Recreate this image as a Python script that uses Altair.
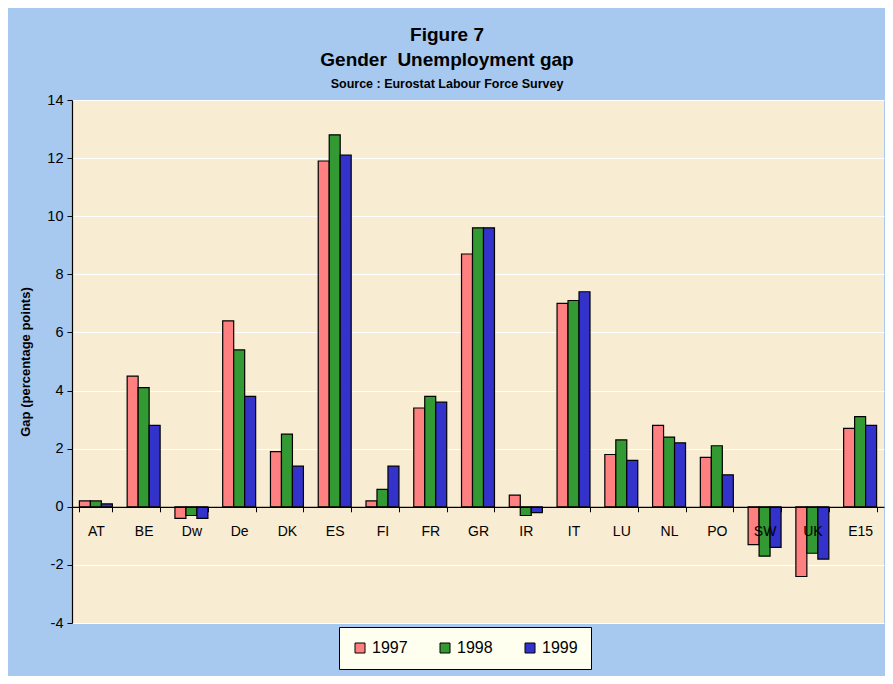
import altair as alt
import pandas as pd

countries = ["AT", "BE", "Dw", "De", "DK", "ES", "FI", "FR", "GR", "IR",
             "IT", "LU", "NL", "PO", "SW", "UK", "E15"]
years = ["1997", "1998", "1999"]
gap_1997 = [0.2, 4.5, -0.4, 6.4, 1.9, 11.9, 0.2, 3.4, 8.7, 0.4, 7.0, 1.8, 2.8, 1.7, -1.3, -2.4, 2.7]
gap_1998 = [0.2, 4.1, -0.3, 5.4, 2.5, 12.8, 0.6, 3.8, 9.6, -0.3, 7.1, 2.3, 2.4, 2.1, -1.7, -1.6, 3.1]
gap_1999 = [0.1, 2.8, -0.4, 3.8, 1.4, 12.1, 1.4, 3.6, 9.6, -0.2, 7.4, 1.6, 2.2, 1.1, -1.4, -1.8, 2.8]
y_ticks = [-4, -2, 0, 2, 4, 6, 8, 10, 12, 14]
colors = ["#FF8080", "#339933", "#3333CC"]

rows = []
for i, c in enumerate(countries):
    for yr, vals in zip(years, [gap_1997, gap_1998, gap_1999]):
        rows.append({"country": c, "year": yr, "gap": vals[i]})
df = pd.DataFrame(rows)

FONT = "Liberation Sans"
W, H = 812, 523
zero_from_bottom = H * (0 - (-4)) / 18.0

chart = alt.Chart(df).mark_bar(stroke="black", strokeWidth=1.2).encode(
    x=alt.X(
        "country:N", sort=countries,
        scale=alt.Scale(paddingInner=0.31, paddingOuter=0.155),
        axis=alt.Axis(title=None, orient="bottom", offset=-zero_from_bottom,
                      tickBand="extent", labelAngle=0, labelFontSize=14,
                      labelFont=FONT, labelColor="black", labelPadding=13,
                      domainColor="black", domainWidth=1.2, tickColor="black",
                      tickSize=5, grid=False, zindex=1),
    ),
    xOffset=alt.XOffset("year:N", sort=years,
                        scale=alt.Scale(paddingInner=0, paddingOuter=0)),
    y=alt.Y(
        "gap:Q",
        scale=alt.Scale(domain=[-4, 14], nice=False, zero=False),
        axis=alt.Axis(values=y_ticks, title="Gap (percentage points)",
                      labelExpr="'' + datum.value",
                      titleFont=FONT, titleFontSize=13, titleFontWeight="bold",
                      titleColor="black", titlePadding=14,
                      labelFont=FONT, labelFontSize=14.5, labelColor="black",
                      labelPadding=4, domainColor="black", domainWidth=1.2,
                      tickColor="black", tickSize=5, grid=True,
                      gridColor="white", gridWidth=1.2),
    ),
    color=alt.Color(
        "year:N",
        scale=alt.Scale(domain=years, range=colors),
        legend=alt.Legend(title=None, orient="none", legendX=267, legendY=527,
                          direction="horizontal", columns=3,
                          fillColor="#FFFFF0", strokeColor="black",
                          padding=13, symbolType="square", symbolSize=100,
                          symbolStrokeColor="black", symbolStrokeWidth=1,
                          labelFont=FONT, labelFontSize=16, labelColor="black",
                          labelOffset=4, columnPadding=29),
    ),
).properties(
    width=W, height=H,
    title=alt.TitleParams(
        text=["Figure 7", "Gender\u00a0 Unemployment gap"],
        subtitle="Source : Eurostat Labour Force Survey",
        font=FONT, fontSize=19, fontWeight="bold", color="black",
        lineHeight=25,
        subtitleFont=FONT, subtitleFontSize=12.5, subtitleFontWeight="bold",
        subtitleColor="black", subtitlePadding=8,
        anchor="middle", dx=-31, offset=2,
    ),
    background="#A7C9EF",
    padding={"left": 64, "top": 92, "right": 1, "bottom": 53},
    autosize=alt.AutoSizeParams(type="none"),
).configure_view(
    fill="#F8ECD3", stroke=None,
)

chart.save("out.html", embed_options={"renderer": "svg", "actions": False})
